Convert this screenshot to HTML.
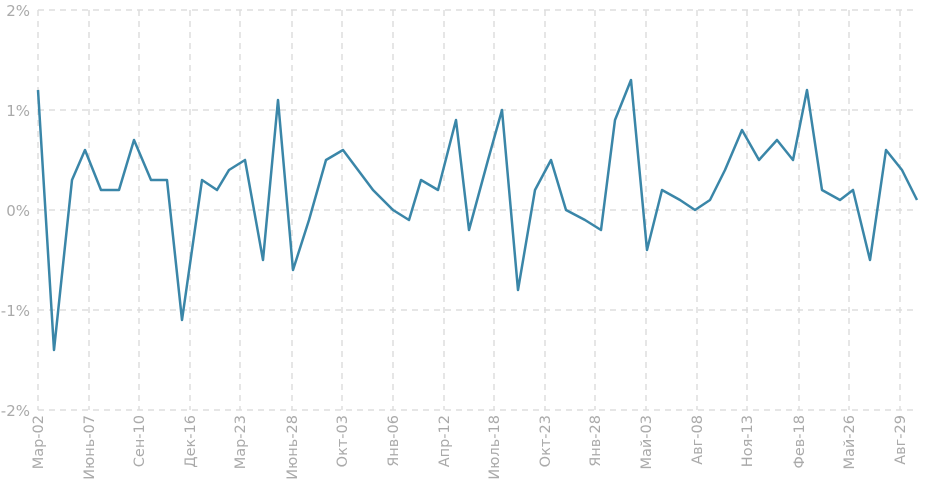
<!DOCTYPE html>
<html><head><meta charset="utf-8"><style>body{margin:0;background:#fff}svg{display:block}</style></head><body>
<svg width="933" height="490" xmlns="http://www.w3.org/2000/svg" font-family="DejaVu Sans, Liberation Sans, sans-serif">
<g stroke="#ddd" stroke-width="1.5" stroke-dasharray="6,5" fill="none">
<line x1="38" y1="10" x2="918" y2="10"/><line x1="38" y1="110" x2="918" y2="110"/><line x1="38" y1="210" x2="918" y2="210"/><line x1="38" y1="310" x2="918" y2="310"/><line x1="38" y1="410" x2="918" y2="410"/>
<line x1="38" y1="10" x2="38" y2="410"/><line x1="89" y1="10" x2="89" y2="410"/><line x1="139" y1="10" x2="139" y2="410"/><line x1="190" y1="10" x2="190" y2="410"/><line x1="240" y1="10" x2="240" y2="410"/><line x1="292" y1="10" x2="292" y2="410"/><line x1="342" y1="10" x2="342" y2="410"/><line x1="393" y1="10" x2="393" y2="410"/><line x1="444" y1="10" x2="444" y2="410"/><line x1="494" y1="10" x2="494" y2="410"/><line x1="545" y1="10" x2="545" y2="410"/><line x1="595" y1="10" x2="595" y2="410"/><line x1="646" y1="10" x2="646" y2="410"/><line x1="697" y1="10" x2="697" y2="410"/><line x1="747" y1="10" x2="747" y2="410"/><line x1="799" y1="10" x2="799" y2="410"/><line x1="849" y1="10" x2="849" y2="410"/><line x1="900" y1="10" x2="900" y2="410"/>
</g>
<g fill="#aaa" font-size="15" text-anchor="end">
<text x="30" y="16">2%</text><text x="30" y="116">1%</text><text x="30" y="216">0%</text><text x="30" y="316">-1%</text><text x="30" y="416">-2%</text>
</g>
<g fill="#aaa" font-size="14.5" text-anchor="end">
<text transform="translate(43,415) rotate(-90)">Мар-02</text>
<text transform="translate(94,415) rotate(-90)">Июнь-07</text>
<text transform="translate(144,415) rotate(-90)">Сен-10</text>
<text transform="translate(195,415) rotate(-90)">Дек-16</text>
<text transform="translate(245,415) rotate(-90)">Мар-23</text>
<text transform="translate(297,415) rotate(-90)">Июнь-28</text>
<text transform="translate(347,415) rotate(-90)">Окт-03</text>
<text transform="translate(398,415) rotate(-90)">Янв-06</text>
<text transform="translate(449,415) rotate(-90)">Апр-12</text>
<text transform="translate(499,415) rotate(-90)">Июль-18</text>
<text transform="translate(550,415) rotate(-90)">Окт-23</text>
<text transform="translate(600,415) rotate(-90)">Янв-28</text>
<text transform="translate(651,415) rotate(-90)">Май-03</text>
<text transform="translate(702,415) rotate(-90)">Авг-08</text>
<text transform="translate(752,415) rotate(-90)">Ноя-13</text>
<text transform="translate(804,415) rotate(-90)">Фев-18</text>
<text transform="translate(854,415) rotate(-90)">Май-26</text>
<text transform="translate(905,415) rotate(-90)">Авг-29</text>
</g>
<polyline fill="none" stroke="#3a86a8" stroke-width="2.5" stroke-linejoin="round" points="38,90 54,350 72,180 85,150 101,190 119,190 134,140 151,180 167,180 182,320 202,180 217,190 229,170 245,160 263,260 278,100 293,270 309,220 326,160 343,150 373,190 393,210 409,220 421,180 438,190 456,120 469,230 488,160 502,110 518,290 535,190 551,160 566,210 585,220 601,230 615,120 631,80 647,250 662,190 680,200 695,210 710,200 725,170 742,130 759,160 777,140 793,160 807,90 822,190 840,200 853,190 870,260 886,150 902,170 917,200"/>
</svg>
</body></html>
